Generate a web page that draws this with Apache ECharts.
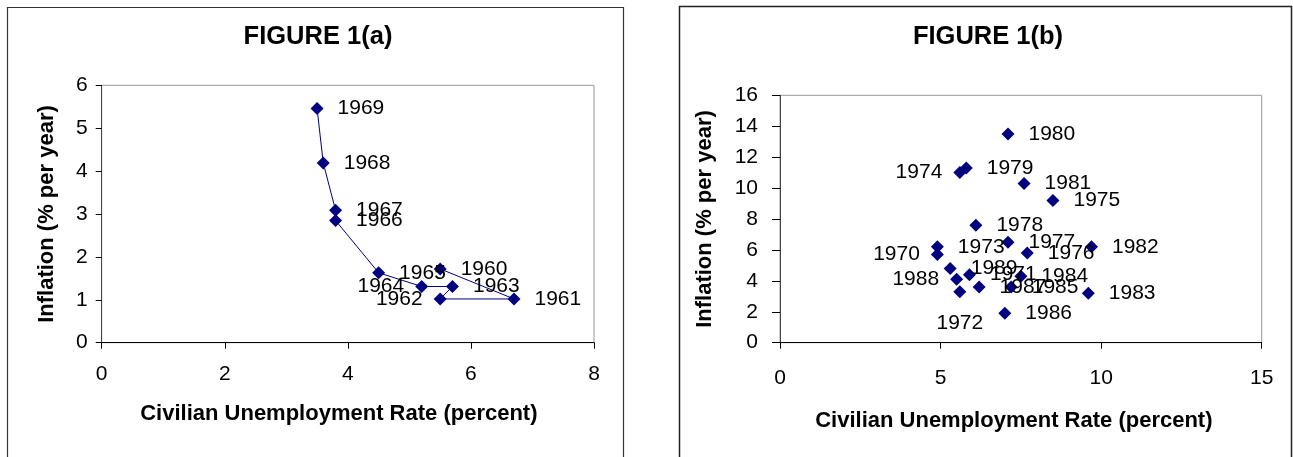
<!DOCTYPE html>
<html>
<head>
<meta charset="utf-8">
<script src="https://cdn.jsdelivr.net/npm/echarts@6/dist/echarts.min.js"></script>
<style>
html,body{margin:0;padding:0;background:#fff;}
#c{width:1293px;height:457px;}
</style>
</head>
<body>
<div id="c"></div>
<script>
// ---- Data: Figure 1(a), 1960s ----
const yearsA = [1960, 1961, 1962, 1963, 1964, 1965, 1966, 1967, 1968, 1969];
const unempA = [5.5, 6.7, 5.5, 5.7, 5.2, 4.5, 3.8, 3.8, 3.6, 3.5];
const inflA  = [1.72, 1.02, 1.02, 1.31, 1.31, 1.63, 2.85, 3.09, 4.19, 5.46];

// ---- Data: Figure 1(b), 1970s-80s ----
const yearsB = [1970, 1971, 1972, 1973, 1974, 1975, 1976, 1977, 1978, 1979,
                1980, 1981, 1982, 1983, 1984, 1985, 1986, 1987, 1988, 1989];
const unempB = [4.9, 5.9, 5.6, 4.9, 5.6, 8.5, 7.7, 7.1, 6.1, 5.8,
                7.1, 7.6, 9.7, 9.6, 7.5, 7.2, 7.0, 6.2, 5.5, 5.3];
const inflB  = [5.7, 4.4, 3.3, 6.2, 11.0, 9.2, 5.8, 6.5, 7.6, 11.3,
                13.5, 10.3, 6.2, 3.2, 4.3, 3.6, 1.9, 3.6, 4.1, 4.8];

// ---- Axis tick ranges ----
const xTicksA = [0, 2, 4, 6, 8];
const yTicksA = [0, 1, 2, 3, 4, 5, 6];
const xTicksB = [0, 5, 10, 15];
const yTicksB = [0, 2, 4, 6, 8, 10, 12, 14, 16];

// ---- Text ----
const titleA = 'FIGURE 1(a)';
const titleB = 'FIGURE 1(b)';
const xName = 'Civilian Unemployment Rate (percent)';
const yName = 'Inflation (% per year)';

// label placement (style only)
const leftLabelsA = [1962, 1964];
const leftLabelsB = [1970, 1974, 1988];
const belowLabelsB = [1972];

const FONT = '"Liberation Sans", Arial, Helvetica, sans-serif';
const MARK = '#000080';

function labelFor(year, lefts, belows) {
  if (lefts.indexOf(year) >= 0) return { position: 'left', distance: 11 };
  if (belows && belows.indexOf(year) >= 0) return { position: 'bottom', distance: 15 };
  return { position: 'right', distance: 14 };
}

const dataA = yearsA.map((y, i) => ({ name: String(y), value: [unempA[i], inflA[i]], label: labelFor(y, leftLabelsA) }));
const dataB = yearsB.map((y, i) => ({ name: String(y), value: [unempB[i], inflB[i]], label: labelFor(y, leftLabelsB, belowLabelsB) }));

function xAxisCfg(ticks, gridIndex, margin, nameGap, namePad) {
  return {
    type: 'value', gridIndex: gridIndex,
    min: ticks[0], max: ticks[ticks.length - 1], interval: ticks[1] - ticks[0],
    name: xName, nameLocation: 'middle', nameGap: nameGap,
    nameTextStyle: { fontFamily: FONT, fontSize: 22, fontWeight: 'bold', color: '#000', padding: namePad },
    axisLine: { show: true, onZero: false, lineStyle: { color: '#000', width: 1 } },
    axisTick: { show: true, inside: false, length: 6, lineStyle: { color: '#000' } },
    axisLabel: { fontFamily: FONT, fontSize: 21, color: '#000', margin: margin },
    splitLine: { show: false }
  };
}
function yAxisCfg(ticks, gridIndex, margin, nameGap, tickLen) {
  return {
    type: 'value', gridIndex: gridIndex,
    min: ticks[0], max: ticks[ticks.length - 1], interval: ticks[1] - ticks[0],
    name: yName, nameLocation: 'middle', nameGap: nameGap, nameRotate: 90,
    nameTextStyle: { fontFamily: FONT, fontSize: 22, fontWeight: 'bold', color: '#000' },
    axisLine: { show: true, onZero: false, lineStyle: { color: '#444', width: 1 } },
    axisTick: { show: true, inside: false, length: tickLen, lineStyle: { color: '#000' } },
    axisLabel: { fontFamily: FONT, fontSize: 21, color: '#000', margin: margin },
    splitLine: { show: false }
  };
}

const labelStyle = {
  show: true,
  formatter: p => p.name,
  fontFamily: FONT, fontSize: 21, color: '#000'
};

const chart = echarts.init(document.getElementById('c'), null, { renderer: 'canvas' });
chart.setOption({
  backgroundColor: '#fff',
  animation: false,
  graphic: [
    { type: 'rect', shape: { x: 7.5, y: 7.5, width: 616, height: 480 },
      style: { fill: 'none', stroke: '#333', lineWidth: 1.2 }, z: 100 },
    { type: 'rect', shape: { x: 679.5, y: 6.5, width: 612, height: 480 },
      style: { fill: 'none', stroke: '#222', lineWidth: 1.5 }, z: 100 },
    { type: 'text', x: 318, y: 37,
      style: { text: titleA, font: 'bold 25.5px ' + FONT, fill: '#000', textAlign: 'center', textVerticalAlign: 'middle' } },
    { type: 'text', x: 988, y: 37,
      style: { text: titleB, font: 'bold 25.5px ' + FONT, fill: '#000', textAlign: 'center', textVerticalAlign: 'middle' } }
  ],
  grid: [
    { left: 101.7, top: 85.3, width: 492.3, height: 257.4, show: true, borderColor: '#999', borderWidth: 1, backgroundColor: 'transparent' },
    { left: 780, top: 95.3, width: 481.7, height: 247.4, show: true, borderColor: '#999', borderWidth: 1, backgroundColor: 'transparent' }
  ],
  xAxis: [
    xAxisCfg(xTicksA, 0, 21, 60, [0, 18, 0, 0]),
    xAxisCfg(xTicksB, 1, 25, 67, [0, 14, 0, 0])
  ],
  yAxis: [
    yAxisCfg(yTicksA, 0, 14, 44, 6),
    yAxisCfg(yTicksB, 1, 22, 64, 8)
  ],
  series: [
    {
      type: 'line', xAxisIndex: 0, yAxisIndex: 0,
      data: dataA,
      symbol: 'diamond', symbolSize: 13, showAllSymbol: true,
      lineStyle: { color: MARK, width: 1 },
      itemStyle: { color: MARK },
      label: labelStyle,
      emphasis: { disabled: true }
    },
    {
      type: 'scatter', xAxisIndex: 1, yAxisIndex: 1,
      data: dataB,
      symbol: 'diamond', symbolSize: 13,
      itemStyle: { color: MARK, opacity: 1 },
      label: labelStyle,
      emphasis: { disabled: true }
    }
  ]
});
</script>
</body>
</html>
